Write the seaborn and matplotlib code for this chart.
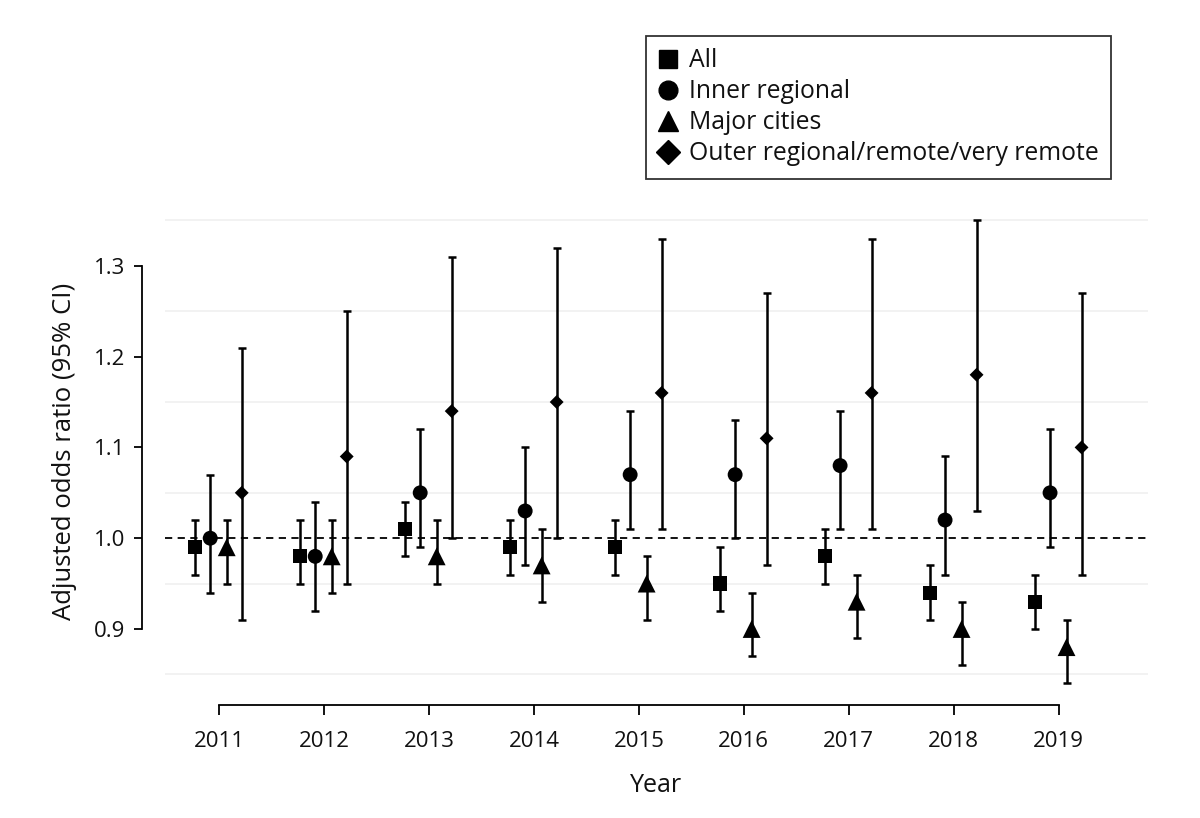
import matplotlib
matplotlib.use("Agg")
import matplotlib.pyplot as plt
import seaborn as sns
import pandas as pd
from matplotlib.lines import Line2D

years = [2011, 2012, 2013, 2014, 2015, 2016, 2017, 2018, 2019]
groups = ["All", "Inner regional", "Major cities", "Outer regional/remote/very remote"]

all_or = [0.99, 0.98, 1.01, 0.99, 0.99, 0.95, 0.98, 0.94, 0.93]
all_lo = [0.96, 0.95, 0.98, 0.96, 0.96, 0.92, 0.95, 0.91, 0.90]
all_hi = [1.02, 1.02, 1.04, 1.02, 1.02, 0.99, 1.01, 0.97, 0.96]

inner_or = [1.00, 0.98, 1.05, 1.03, 1.07, 1.07, 1.08, 1.02, 1.05]
inner_lo = [0.94, 0.92, 0.99, 0.97, 1.01, 1.00, 1.01, 0.96, 0.99]
inner_hi = [1.07, 1.04, 1.12, 1.10, 1.14, 1.13, 1.14, 1.09, 1.12]

major_or = [0.99, 0.98, 0.98, 0.97, 0.95, 0.90, 0.93, 0.90, 0.88]
major_lo = [0.95, 0.94, 0.95, 0.93, 0.91, 0.87, 0.89, 0.86, 0.84]
major_hi = [1.02, 1.02, 1.02, 1.01, 0.98, 0.94, 0.96, 0.93, 0.91]

outer_or = [1.05, 1.09, 1.14, 1.15, 1.16, 1.11, 1.16, 1.18, 1.10]
outer_lo = [0.91, 0.95, 1.00, 1.00, 1.01, 0.97, 1.01, 1.03, 0.96]
outer_hi = [1.21, 1.25, 1.31, 1.32, 1.33, 1.27, 1.33, 1.35, 1.27]

y_ticks = [0.9, 1.0, 1.1, 1.2, 1.3]
y_tick_labels = ["0.9", "1.0", "1.1", "1.2", "1.3"]

series = {
    "All": (all_or, all_lo, all_hi),
    "Inner regional": (inner_or, inner_lo, inner_hi),
    "Major cities": (major_or, major_lo, major_hi),
    "Outer regional/remote/very remote": (outer_or, outer_lo, outer_hi),
}
offsets = {"All": -0.23, "Inner regional": -0.083, "Major cities": 0.074,
           "Outer regional/remote/very remote": 0.217}
markers = {"All": "s", "Inner regional": "o", "Major cities": "^",
           "Outer regional/remote/very remote": "D"}
msizes = {"All": 105, "Inner regional": 115, "Major cities": 165,
          "Outer regional/remote/very remote": 50}
leg_msizes = {"All": 13, "Inner regional": 13.5, "Major cities": 14,
              "Outer regional/remote/very remote": 12.5}

rows = []
for g in groups:
    o, lo, hi = series[g]
    for i, y in enumerate(years):
        rows.append({"x": y + offsets[g], "year": y, "group": g,
                     "or": o[i], "lo": lo[i], "hi": hi[i]})
df = pd.DataFrame(rows)

sns.set_theme(style="white")
plt.rcParams["font.family"] = ["Open Sans", "DejaVu Sans"]
plt.rcParams["text.color"] = "#111111"
plt.rcParams["axes.labelcolor"] = "#111111"
plt.rcParams["xtick.color"] = "#111111"
plt.rcParams["ytick.color"] = "#111111"

fig = plt.figure(figsize=(12, 8.18), dpi=100)
W, H = 1200, 818
ax = fig.add_axes([165 / W, 1 - 688 / H, (1148 - 165) / W, (688 - 215) / H])

# faint gridlines
for gy in [0.85, 0.95, 1.05, 1.15, 1.25, 1.35]:
    ax.axhline(gy, color="#f1f1f1", lw=1.3, zorder=0)
ax.axhline(1.0, color="black", lw=1.3, ls=(0, (4, 3)), zorder=1)

for g in groups:
    d = df[df["group"] == g]
    ax.errorbar(d["x"], d["or"], yerr=[d["or"] - d["lo"], d["hi"] - d["or"]],
                fmt="none", ecolor="black", elinewidth=1.8, capsize=3.0,
                capthick=1.8, zorder=2)

sns.scatterplot(data=df, x="x", y="or", style="group", markers=markers,
                style_order=groups, color="black", edgecolor="black",
                linewidth=0, s=100, ax=ax, legend=False, zorder=3)
pc = ax.collections[-1]
pc.set_sizes([msizes[g] for g in df["group"]])

ax.set_xlim(2010.486, 2019.85)
ax.set_ylim(0.835, 1.356)
ax.set_xticks(years)
ax.set_yticks(y_ticks)
ax.set_xlabel("Year", fontsize=18, labelpad=15)
ax.set_ylabel("Adjusted odds ratio (95% CI)", fontsize=18.5, labelpad=12)

sns.despine(ax=ax, offset={"left": 16.5, "bottom": 12}, trim=True)
ax.set_xticks(years)
ax.set_xticklabels([str(y) for y in years])
ax.set_yticks(y_ticks)
ax.set_yticklabels(y_tick_labels)
ax.tick_params(axis="x", which="major", direction="out", length=7, width=1.3,
               color="black", bottom=True, pad=12, labelsize=16)
ax.tick_params(axis="y", which="major", direction="out", length=6, width=1.3,
               color="black", left=True, pad=6, labelsize=16)
for s in ["left", "bottom"]:
    ax.spines[s].set_color("black")
    ax.spines[s].set_linewidth(1.3)

handles = [Line2D([], [], marker=markers[g], color="black", ls="none",
                  markersize=leg_msizes[g])
           for g in groups]
leg = fig.legend(handles, groups, loc="upper right",
                 bbox_to_anchor=(1111 / W, 1 - 36 / H), frameon=True,
                 fancybox=False, fontsize=17.8, handlelength=0.8,
                 handletextpad=0.45, labelspacing=0.24, borderpad=0.5,
                 borderaxespad=0, edgecolor="black")
leg.get_frame().set_linewidth(1.3)

fig.savefig("out.png", dpi=100)
